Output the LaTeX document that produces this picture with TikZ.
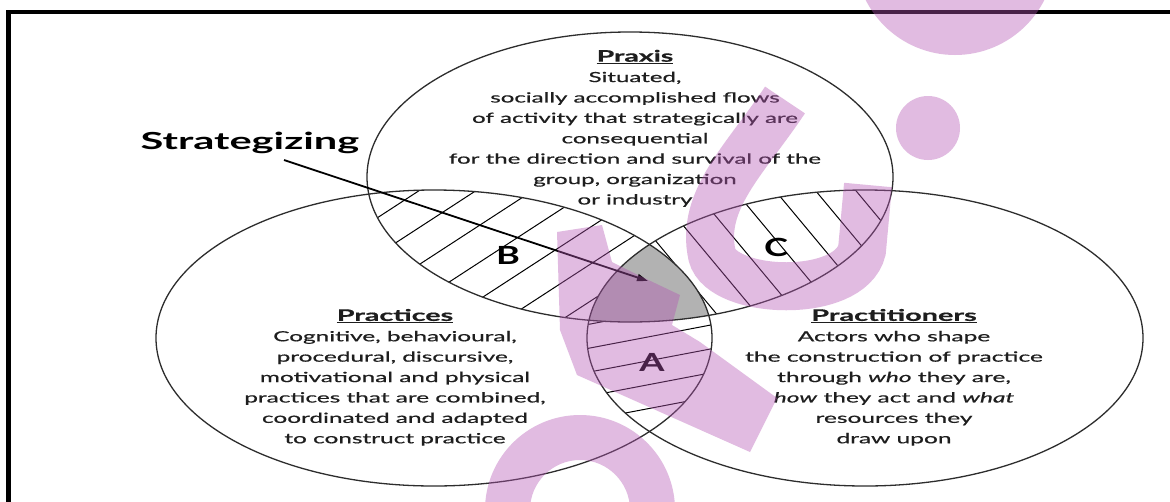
\documentclass[tikz,border=0pt]{standalone}
\usepackage{fontspec}
\usepackage{graphicx}
\setmainfont{Lato}
\newfontfamily\bodyfont{Lato}[FakeBold=0.5]
\usetikzlibrary{arrows.meta}

\definecolor{ink}{RGB}{30,30,30}
\definecolor{outline}{RGB}{45,45,45}
\definecolor{lensgray}{RGB}{178,178,178}
\definecolor{wmark}{RGB}{180,85,180}

\tikzset{
  setline/.style={draw=outline, line width=1.3pt},
  hatchline/.style={draw=black, line width=1pt},
  bodytext/.style={align=center, text=ink, inner sep=0pt},
  regionlabel/.style={inner sep=0pt, text=black},
  wm/.style={wmark, opacity=0.4},
}

% stretched text helpers
\newcommand{\wideblock}[2]{\scalebox{#1}[1]{\bodyfont\fontsize{14}{20.4}\selectfont\begin{tabular}{@{}c@{}}#2\end{tabular}}}
\newcommand{\blocktitle}[1]{\scalebox{1.03}[1]{\fontsize{16}{16}\selectfont\underline{\textbf{#1}}}}
\newcommand{\regionletter}[1]{\scalebox{1.45}[1]{\fontsize{25}{25}\selectfont\bfseries #1}}

% the three sets
\newcommand{\praxisset}{(630,177) ellipse [x radius=263pt, y radius=145pt]}
\newcommand{\practiceset}{(434,338) ellipse [x radius=278pt, y radius=148pt]}
\newcommand{\actorset}{(865,338) ellipse [x radius=278pt, y radius=148pt]}

\begin{document}
\begin{tikzpicture}[x=1pt,y=-1pt]
\useasboundingbox (0,0) rectangle (1170,501);
\fill[white] (0,0) rectangle (1170,501);
\clip (0,0) rectangle (1170,501);

% region B: praxis and practices
\begin{scope}
  \clip \praxisset;
  \clip \practiceset;
  \foreach \k in {-14,...,14}
    \draw[hatchline] ({483+\k*31*0.545-320*0.8384},{297+\k*31*0.8384+320*0.545})
                  -- ({483+\k*31*0.545+320*0.8384},{297+\k*31*0.8384-320*0.545});
\end{scope}

% region C: praxis and practitioners
\begin{scope}
  \clip \praxisset;
  \clip \actorset;
  \foreach \k in {-14,...,14}
    \draw[hatchline] ({783+\k*31*0.768-320*0.640},{200-\k*31*0.640-320*0.768})
                  -- ({783+\k*31*0.768+320*0.640},{200-\k*31*0.640+320*0.768});
\end{scope}

% region A: practices and practitioners
\begin{scope}
  \clip \practiceset;
  \clip \actorset;
  \foreach \k in {-10,...,10}
    \draw[hatchline] ({590+\k*23.5*0.187-320*0.982},{348+\k*23.5*0.982+320*0.187})
                  -- ({590+\k*23.5*0.187+320*0.982},{348+\k*23.5*0.982-320*0.187});
\end{scope}

% strategizing: all three sets
\begin{scope}
  \clip \praxisset;
  \clip \practiceset;
  \fill[lensgray] \actorset;
\end{scope}

% outlines
\draw[setline] \praxisset;
\draw[setline] \practiceset;
\draw[setline] \actorset;

% texts
\node[bodytext] (praxis) at (635,129) {\wideblock{1.72}{%
  \blocktitle{Praxis}\\
  Situated,\\
  socially accomplished flows\\
  of activity that strategically are\\
  consequential\\
  for the direction and survival of the\\
  group, organization\\
  or industry}};

\node[bodytext] (practices) at (395,378) {\wideblock{1.74}{%
  \blocktitle{Practices}\\
  Cognitive, behavioural,\\
  procedural, discursive,\\
  motivational and physical\\
  practices that are combined,\\
  coordinated and adapted\\
  to construct practice}};

\node[bodytext] (practitioners) at (894,378) {\wideblock{1.75}{%
  \blocktitle{Practitioners}\\
  Actors who shape\\
  the construction of practice\\
  through \textit{who} they are,\\
  \textit{how} they act and \textit{what}\\
  resources they\\
  draw upon}};

\node[regionlabel] (labelB) at (508,255) {\regionletter{B}};
\node[regionlabel] (labelC) at (776,247) {\regionletter{C}};
\node[regionlabel] (labelA) at (652,362) {\regionletter{A}};

\node[inner sep=0pt] (strat) at (250,143)
  {\scalebox{1.77}[1]{\fontsize{23.5}{24}\selectfont\bfseries Strategizing}};

% pointer into the shared centre
\coordinate (arrowstart) at (284,160);
\coordinate (arrowtip) at (648,281);
\draw[line width=1.8pt, -{Triangle[length=11pt,width=7pt]}] (arrowstart) -- (arrowtip);

% frame
\draw[line width=4.5pt] (8.5,520) -- (8.5,12) -- (1180,12);

% watermark
\fill[wm] (955,-45) circle[radius=100pt]
          (928,128) circle[radius=32pt]
          (557,232) -- (602,225) -- (612,262) -- (640,276) -- (680,295) -- (672,325)
            -- (700,342) -- (777,398) -- (750,452) -- (577,375) -- (560,330) -- cycle
          (485,510) arc[start angle=180, end angle=0, radius=95pt]
            -- (630,510) arc[start angle=0, end angle=180, radius=50pt] -- cycle;
\draw[wm, line width=48pt] (785,100) .. controls (745,160) and (700,200) .. (712,255)
   .. controls (722,295) and (850,300) .. (862,250) -- (868,185);
\end{tikzpicture}
\end{document}
